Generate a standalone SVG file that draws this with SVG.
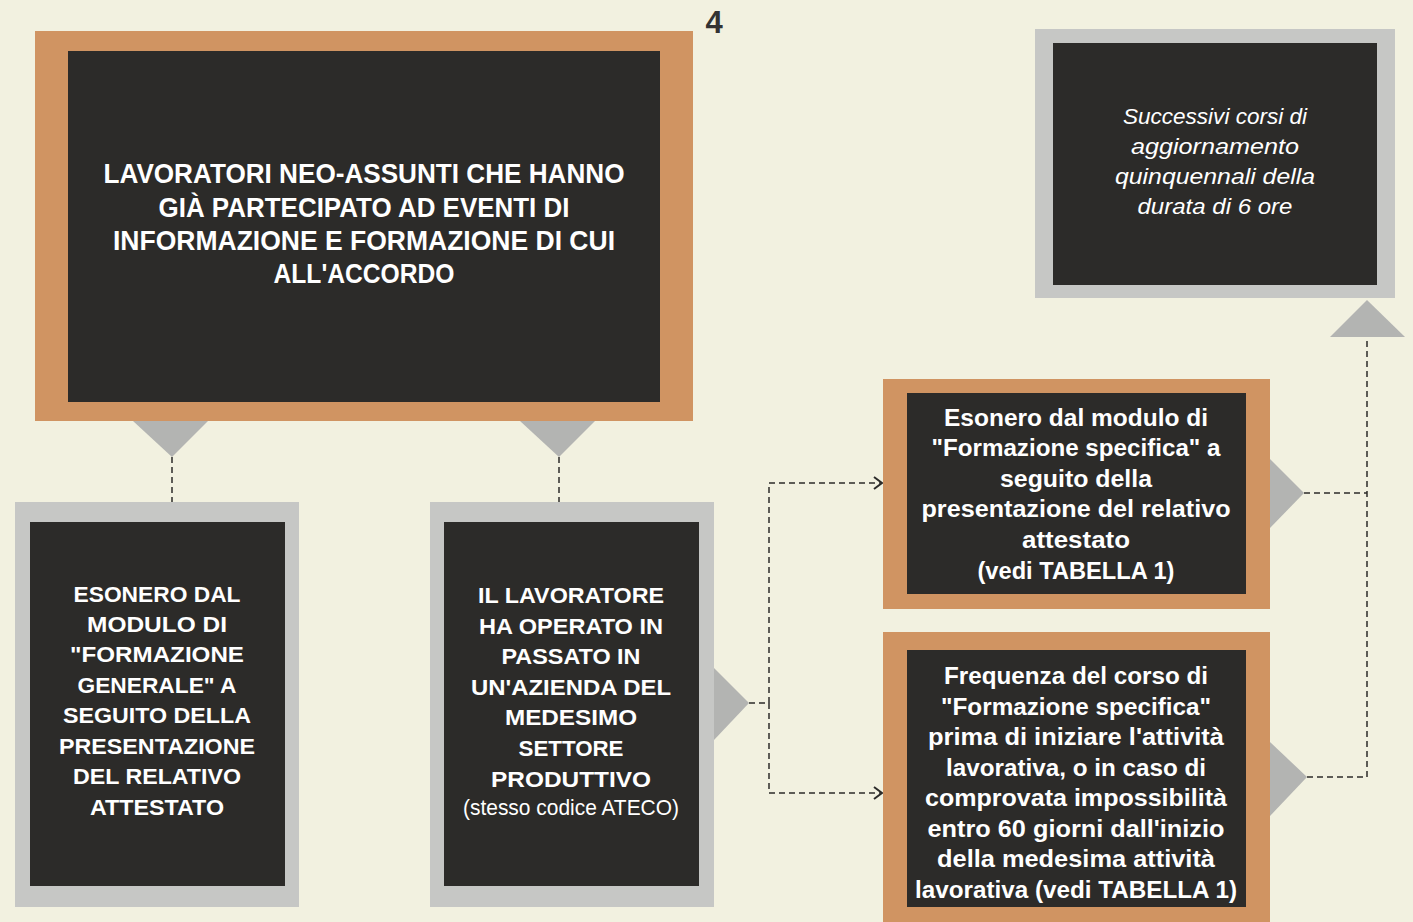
<svg xmlns="http://www.w3.org/2000/svg" width="1413" height="922" viewBox="0 0 1413 922">
<defs>
<style>
.bg{fill:#f2f1e0}
.or{fill:#d09462}
.gr{fill:#c6c7c5}
.dk{fill:#2c2b29}
.tri{fill:#b3b4b2}
.t{font-family:"Liberation Sans",Arial,sans-serif;fill:#ffffff;text-anchor:middle;font-weight:bold}
.it{font-family:"Liberation Sans",Arial,sans-serif;fill:#ffffff;text-anchor:middle;font-style:italic}
.rg{font-family:"Liberation Sans",Arial,sans-serif;fill:#ffffff;text-anchor:middle}
.dash{fill:none;stroke:#2c2b29;stroke-width:1.5;stroke-dasharray:6 4}
</style>
<marker id="chev" viewBox="0 0 10 14" refX="9" refY="7" markerWidth="10" markerHeight="14" markerUnits="userSpaceOnUse" orient="auto">
<path d="M1,1 L9,7 L1,13" fill="none" stroke="#2c2b29" stroke-width="2"/>
</marker>
</defs>
<rect class="bg" x="0" y="0" width="1413" height="922"/>
<text x="714" y="33" font-family="'Liberation Sans',Arial,sans-serif" font-weight="bold" font-size="31" fill="#333" text-anchor="middle">4</text>

<g id="connectors">
<polygon class="tri" points="133,421 208,421 172,457"/>
<polygon class="tri" points="520,421 595,421 559,457"/>
<polygon class="tri" points="714,668 749,703 714,740"/>
<polygon class="tri" points="1270,459 1304,493 1270,528"/>
<polygon class="tri" points="1270,742 1307,777 1270,816"/>
<polygon class="tri" points="1330,337 1405,337 1367,300"/>
<path class="dash" d="M172,457 V502"/>
<path class="dash" d="M559,457 V502"/>
<path class="dash" d="M749,703 H769"/>
<path class="dash" d="M769,703 V483 H882" marker-end="url(#chev)"/>
<path class="dash" d="M769,703 V793 H882" marker-end="url(#chev)"/>
<path class="dash" d="M1304,493 H1367"/>
<path class="dash" d="M1307,777 H1367 V337"/>
</g>

<g id="node-top">
<rect class="or" x="35" y="31" width="658" height="390"/>
<rect class="dk" x="68" y="51" width="592" height="351"/>
<g class="t" font-size="27.5">
<text x="364" y="183" textLength="521" lengthAdjust="spacingAndGlyphs">LAVORATORI NEO-ASSUNTI CHE HANNO</text>
<text x="364" y="217" textLength="411" lengthAdjust="spacingAndGlyphs">GIÀ PARTECIPATO AD EVENTI DI</text>
<text x="364" y="250" textLength="502" lengthAdjust="spacingAndGlyphs">INFORMAZIONE E FORMAZIONE DI CUI</text>
<text x="364" y="283" textLength="181" lengthAdjust="spacingAndGlyphs">ALL'ACCORDO</text>
</g>
</g>

<g id="node-aggiornamento">
<rect class="gr" x="1035" y="29" width="360" height="269"/>
<rect class="dk" x="1053" y="43" width="324" height="242"/>
<g class="it" font-size="22.5">
<text x="1215" y="124" textLength="184" lengthAdjust="spacingAndGlyphs">Successivi corsi di</text>
<text x="1215" y="154" textLength="168" lengthAdjust="spacingAndGlyphs">aggiornamento</text>
<text x="1215" y="184" textLength="200" lengthAdjust="spacingAndGlyphs">quinquennali della</text>
<text x="1215" y="214" textLength="155" lengthAdjust="spacingAndGlyphs">durata di 6 ore</text>
</g>
</g>

<g id="node-esonero-generale">
<rect class="gr" x="15" y="502" width="284" height="405"/>
<rect class="dk" x="30" y="522" width="255" height="364"/>
<g class="t" font-size="22.5">
<text x="157" y="602" textLength="167" lengthAdjust="spacingAndGlyphs">ESONERO DAL</text>
<text x="157" y="632" textLength="140" lengthAdjust="spacingAndGlyphs">MODULO DI</text>
<text x="157" y="662" textLength="174" lengthAdjust="spacingAndGlyphs">"FORMAZIONE</text>
<text x="157" y="693" textLength="159" lengthAdjust="spacingAndGlyphs">GENERALE" A</text>
<text x="157" y="723" textLength="188" lengthAdjust="spacingAndGlyphs">SEGUITO DELLA</text>
<text x="157" y="754" textLength="196" lengthAdjust="spacingAndGlyphs">PRESENTAZIONE</text>
<text x="157" y="784" textLength="168" lengthAdjust="spacingAndGlyphs">DEL RELATIVO</text>
<text x="157" y="815" textLength="134" lengthAdjust="spacingAndGlyphs">ATTESTATO</text>
</g>
</g>

<g id="node-lavoratore">
<rect class="gr" x="430" y="502" width="284" height="405"/>
<rect class="dk" x="444" y="522" width="255" height="364"/>
<g class="t" font-size="22.5">
<text x="571" y="603" textLength="186" lengthAdjust="spacingAndGlyphs">IL LAVORATORE</text>
<text x="571" y="634" textLength="184" lengthAdjust="spacingAndGlyphs">HA OPERATO IN</text>
<text x="571" y="664" textLength="139" lengthAdjust="spacingAndGlyphs">PASSATO IN</text>
<text x="571" y="695" textLength="200" lengthAdjust="spacingAndGlyphs">UN'AZIENDA DEL</text>
<text x="571" y="725" textLength="132" lengthAdjust="spacingAndGlyphs">MEDESIMO</text>
<text x="571" y="756" textLength="105" lengthAdjust="spacingAndGlyphs">SETTORE</text>
<text x="571" y="787" textLength="160" lengthAdjust="spacingAndGlyphs">PRODUTTIVO</text>
</g>
<text class="rg" x="571" y="815" font-size="21.5" textLength="216" lengthAdjust="spacingAndGlyphs">(stesso codice ATECO)</text>
</g>

<g id="node-esonero-specifica">
<rect class="or" x="883" y="379" width="387" height="230"/>
<rect class="dk" x="907" y="393" width="339" height="201"/>
<g class="t" font-size="23.5">
<text x="1076" y="426" textLength="264" lengthAdjust="spacingAndGlyphs">Esonero dal modulo di</text>
<text x="1076" y="456" textLength="289" lengthAdjust="spacingAndGlyphs">"Formazione specifica" a</text>
<text x="1076" y="487" textLength="152" lengthAdjust="spacingAndGlyphs">seguito della</text>
<text x="1076" y="517" textLength="309" lengthAdjust="spacingAndGlyphs">presentazione del relativo</text>
<text x="1076" y="548" textLength="108" lengthAdjust="spacingAndGlyphs">attestato</text>
<text x="1076" y="579" textLength="197" lengthAdjust="spacingAndGlyphs">(vedi TABELLA 1)</text>
</g>
</g>

<g id="node-frequenza">
<rect class="or" x="883" y="632" width="387" height="290"/>
<rect class="dk" x="907" y="650" width="339" height="257"/>
<g class="t" font-size="23.5">
<text x="1076" y="684" textLength="264" lengthAdjust="spacingAndGlyphs">Frequenza del corso di</text>
<text x="1076" y="715" textLength="270" lengthAdjust="spacingAndGlyphs">"Formazione specifica"</text>
<text x="1076" y="745" textLength="296" lengthAdjust="spacingAndGlyphs">prima di iniziare l'attività</text>
<text x="1076" y="776" textLength="260" lengthAdjust="spacingAndGlyphs">lavorativa, o in caso di</text>
<text x="1076" y="806" textLength="302" lengthAdjust="spacingAndGlyphs">comprovata impossibilità</text>
<text x="1076" y="837" textLength="297" lengthAdjust="spacingAndGlyphs">entro 60 giorni dall'inizio</text>
<text x="1076" y="867" textLength="278" lengthAdjust="spacingAndGlyphs">della medesima attività</text>
<text x="1076" y="898" textLength="322" lengthAdjust="spacingAndGlyphs">lavorativa (vedi TABELLA 1)</text>
</g>
</g>
</svg>
